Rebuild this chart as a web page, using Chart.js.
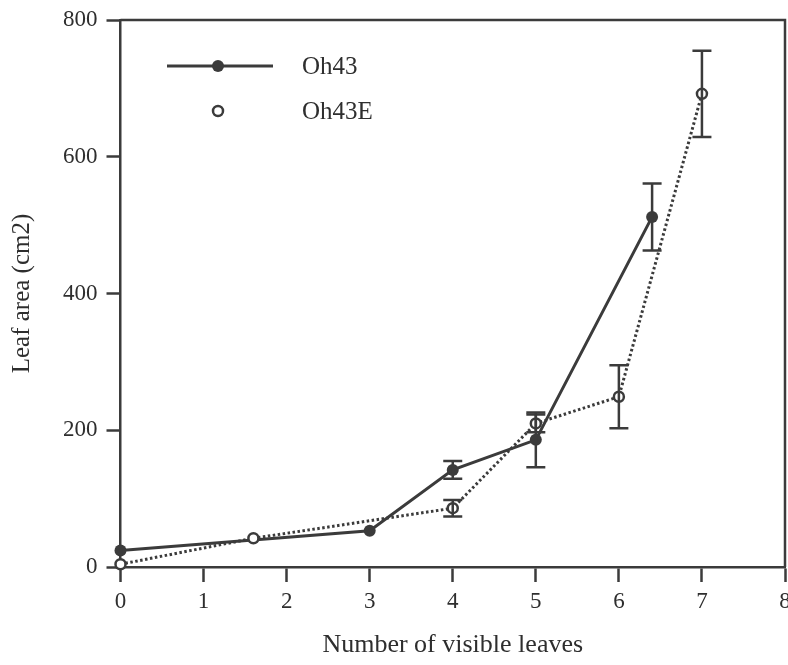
<!DOCTYPE html>
<html>
<head>
<meta charset="utf-8">
<script src="https://cdn.jsdelivr.net/npm/chart.js@4.4.1/dist/chart.umd.min.js"></script>
<style>
  html, body { margin: 0; padding: 0; background: #ffffff; }
  #wrap { width: 788px; height: 665px; position: relative; }
</style>
</head>
<body>
<div id="wrap"><canvas id="c" width="788" height="665"></canvas></div>
<script>
// ---- data ----
const seriesNames = ["Oh43", "Oh43E"];

const oh43Leaves = [0, 3, 4, 5, 6.4];
const oh43Area   = [24, 53, 142, 186, 512];
const oh43Err    = [0, 0, 13, 40, 49];

const oh43eLeaves = [0, 1.6, 4, 5, 6, 7];
const oh43eArea   = [4, 42, 86, 210, 249, 692];
const oh43eErr    = [0, 0, 12, 13, 46, 63];

const xTicks = [0, 1, 2, 3, 4, 5, 6, 7, 8];
const yTicks = [0, 200, 400, 600, 800];

const xTitle = "Number of visible leaves";
const yTitle = "Leaf area (cm2)";

// ---- styling ----
const INK = "#3b3b3b";
const TEXT = "#2e2e2e";
const SERIF = "'Liberation Serif', 'DejaVu Serif', serif";

function toPoints(xs, ys) { return xs.map((x, i) => ({ x: x, y: ys[i] })); }
function noPad(s) {
  s.paddingLeft = 0; s.paddingRight = 0; s.paddingTop = 0; s.paddingBottom = 0;
  s.getPadding = () => ({ left: 0, right: 0, top: 0, bottom: 0 });
}

const errorBars = {
  id: "errorBars",
  afterDatasetsDraw(chart) {
    const ctx = chart.ctx;
    const xs = chart.scales.x, ys = chart.scales.y;
    chart.data.datasets.forEach((ds) => {
      if (!ds.errors) return;
      ctx.save();
      ctx.strokeStyle = INK;
      ctx.lineWidth = 2.5;
      ds.data.forEach((p, i) => {
        const e = ds.errors[i];
        if (!e) return;
        const px = xs.getPixelForValue(p.x);
        const top = ys.getPixelForValue(p.y + e);
        const bot = ys.getPixelForValue(p.y - e);
        const cap = 9.5;
        ctx.beginPath();
        ctx.moveTo(px, top); ctx.lineTo(px, bot);
        ctx.moveTo(px - cap, top); ctx.lineTo(px + cap, top);
        ctx.moveTo(px - cap, bot); ctx.lineTo(px + cap, bot);
        ctx.stroke();
      });
      ctx.restore();
    });
  }
};

const frameAndLegend = {
  id: "frameAndLegend",
  beforeDatasetsDraw(chart) {
    const ctx = chart.ctx, a = chart.chartArea;
    ctx.save();
    ctx.strokeStyle = INK;
    ctx.lineWidth = 2.5;
    ctx.beginPath();
    ctx.moveTo(a.left, a.top); ctx.lineTo(a.right, a.top);
    ctx.lineTo(a.right, a.bottom);
    ctx.stroke();
    ctx.restore();
  },
  afterDraw(chart) {
    const ctx = chart.ctx;
    const ds = chart.data.datasets;
    ctx.save();
    ctx.strokeStyle = INK;
    ctx.lineWidth = 3;
    ctx.beginPath();
    ctx.moveTo(167, 66); ctx.lineTo(273, 66);
    ctx.stroke();
    ctx.fillStyle = INK;
    ctx.beginPath(); ctx.arc(218, 66, 6, 0, Math.PI * 2); ctx.fill();
    ctx.fillStyle = "#ffffff";
    ctx.lineWidth = 2.5;
    ctx.beginPath(); ctx.arc(218, 111, 5, 0, Math.PI * 2); ctx.fill(); ctx.stroke();
    ctx.fillStyle = TEXT;
    ctx.font = "25px " + SERIF;
    ctx.textBaseline = "middle";
    ctx.textAlign = "left";
    ctx.fillText(ds[0].label, 302, 67);
    ctx.fillText(ds[1].label, 302, 112);
    ctx.restore();
  }
};

const cfg = {
  type: "line",
  data: {
    datasets: [
      {
        label: seriesNames[0],
        data: toPoints(oh43Leaves, oh43Area),
        errors: oh43Err,
        borderColor: INK,
        borderWidth: 3,
        pointRadius: 6,
        pointBackgroundColor: INK,
        pointBorderColor: INK,
        pointBorderWidth: 0,
        tension: 0,
        clip: false,
        order: 2
      },
      {
        label: seriesNames[1],
        data: toPoints(oh43eLeaves, oh43eArea),
        errors: oh43eErr,
        borderColor: INK,
        borderWidth: 3,
        borderDash: [2.5, 2.5],
        pointRadius: 5,
        pointBackgroundColor: "#ffffff",
        pointBorderColor: INK,
        pointBorderWidth: 2.5,
        tension: 0,
        clip: false,
        order: 1
      }
    ]
  },
  options: {
    responsive: false,
    animation: false,
    devicePixelRatio: 1,
    layout: { autoPadding: false, padding: { top: 20, right: 3, left: 0, bottom: 0 } },
    plugins: {
      legend: { display: false },
      tooltip: { enabled: false },
      title: { display: false }
    },
    scales: {
      x: {
        type: "linear",
        min: 0, max: 8,
        afterBuildTicks(s) { s.ticks = xTicks.map(v => ({ value: v })); },
        afterFit(s) { s.height = 98; noPad(s); },
        ticks: {
          color: TEXT,
          font: { family: SERIF, size: 23 },
          padding: 6,
          maxRotation: 0,
          autoSkip: false
        },
        grid: {
          display: true,
          drawOnChartArea: false,
          drawTicks: true,
          tickLength: 15,
          tickWidth: 2.5,
          tickColor: INK
        },
        border: { display: true, color: INK, width: 2.5 },
        title: {
          display: true,
          text: xTitle,
          color: TEXT,
          font: { family: SERIF, size: 26 },
          padding: { top: 0, bottom: 4 }
        }
      },
      y: {
        type: "linear",
        min: 0, max: 800,
        afterBuildTicks(s) { s.ticks = yTicks.map(v => ({ value: v })); },
        afterFit(s) { s.width = 120.5; noPad(s); },
        ticks: {
          color: TEXT,
          font: { family: SERIF, size: 23 },
          padding: 9
        },
        grid: {
          display: true,
          drawOnChartArea: false,
          drawTicks: true,
          tickLength: 14,
          tickWidth: 2.5,
          tickColor: INK
        },
        border: { display: true, color: INK, width: 2.5 },
        title: {
          display: true,
          text: yTitle,
          color: TEXT,
          font: { family: SERIF, size: 25 },
          padding: { top: 7, bottom: 0 }
        }
      }
    }
  },
  plugins: [frameAndLegend, errorBars]
};

new Chart(document.getElementById("c"), cfg);
</script>
</body>
</html>
